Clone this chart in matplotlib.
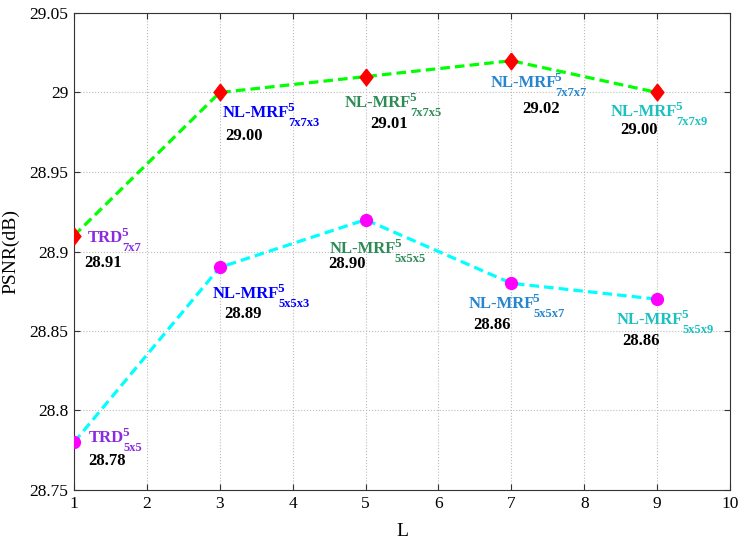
import matplotlib
matplotlib.use("Agg")
import matplotlib.pyplot as plt
from matplotlib.font_manager import FontProperties

plt.rcParams['font.family'] = ['Liberation Serif', 'DejaVu Serif']

# ---- data ----
L = [1, 3, 5, 7, 9]
psnr_7 = [28.91, 29.00, 29.01, 29.02, 29.00]
psnr_5 = [28.78, 28.89, 28.92, 28.88, 28.87]
vals_7 = ['28.91', '29.00', '29.01', '29.02', '29.00']
vals_5 = ['28.78', '28.89', '28.90', '28.86', '28.86']
names_7 = ['TRD', 'NL-MRF', 'NL-MRF', 'NL-MRF', 'NL-MRF']
names_5 = ['TRD', 'NL-MRF', 'NL-MRF', 'NL-MRF', 'NL-MRF']
sups = ['5', '5', '5', '5', '5']
subs_7 = ['7x7', '7x7x3', '7x7x5', '7x7x7', '7x7x9']
subs_5 = ['5x5', '5x5x3', '5x5x5', '5x5x7', '5x5x9']
xticks = [1, 2, 3, 4, 5, 6, 7, 8, 9, 10]
yticks = [28.75, 28.80, 28.85, 28.90, 28.95, 29.00, 29.05]
ytick_labels = ['28.75', '28.8', '28.85', '28.9', '28.95', '29', '29.05']

# ---- styles / layout ----
name_colors = ['#8A2BE2', '#0000FF', '#2E8B57', '#2585CF', '#1CC0C0']
# offsets in pixels (dx, dy downward) for name and value text
name_off_7 = [(14, 6), (3, 25), (-21, 30), (-21, 26), (-46, 24)]
val_off_7 = [(10, 31), (5, 48), (5, 51), (11, 52), (-37, 42)]
name_off_5 = [(15, 0), (-7, 31), (-36, 33), (-43, 25), (-40, 25)]
val_off_5 = [(14, 23), (4, 51), (-37, 48), (-38, 46), (-35, 46)]

fig = plt.figure(figsize=(7.48, 5.42), dpi=100)
ax = fig.add_axes([74/748, 52/542, 656/748, 477/542])

diamond = [(0, 1), (0.77, 0), (0, -1), (-0.77, 0), (0, 1)]

ax.plot(L, psnr_7, color='#00FF00', lw=2.3, linestyle=(0, (3, 1.6)), zorder=3)
ax.plot(L, psnr_7, linestyle='none', marker=diamond, markersize=12,
        markerfacecolor='#FF0000', markeredgecolor='#FF0000', zorder=4)
ax.plot(L, psnr_5, color='#00FFFF', lw=2.3, linestyle=(0, (3, 1.6)), zorder=3)
ax.plot(L, psnr_5, linestyle='none', marker='o', markersize=8.5,
        markerfacecolor='#FF00FF', markeredgecolor='#FF00FF', zorder=4)

renderer = fig.canvas.get_renderer()
fp_main = FontProperties(family=['Liberation Serif', 'DejaVu Serif'], weight='bold', size=12)

def put(x, y, s, off, color, size=12):
    return ax.annotate(s, xy=(x, y), xytext=(off[0], -off[1]), textcoords='offset pixels',
                       ha='left', va='baseline', fontsize=size, fontweight='bold',
                       color=color, zorder=5)

def put_name(x, y, main, sup, sub, off, color):
    put(x, y, main, off, color)
    w, h, d = renderer.get_text_width_height_descent(main, fp_main, ismath=False)
    put(x, y, sup, (off[0] + w - 2, off[1] - 6), color, size=9.5)
    put(x, y, sub, (off[0] + w - 1, off[1] + 9), color, size=9)

for i in range(len(L)):
    put_name(L[i], psnr_7[i], names_7[i], sups[i], subs_7[i], name_off_7[i], name_colors[i])
    put(L[i], psnr_7[i], vals_7[i], val_off_7[i], 'black')
    put_name(L[i], psnr_5[i], names_5[i], sups[i], subs_5[i], name_off_5[i], name_colors[i])
    put(L[i], psnr_5[i], vals_5[i], val_off_5[i], 'black')

ax.set_xlim(1, 10)
ax.set_ylim(28.75, 29.05)
ax.set_xticks(xticks)
ax.set_xticklabels([str(t) for t in xticks])
ax.set_yticks(yticks)
ax.set_yticklabels(ytick_labels)
ax.tick_params(direction='in', length=4, width=0.8, top=True, right=True,
               labelsize=12.5, pad=4, colors='#333333', labelcolor='black')
ax.grid(True, linestyle=':', color='#BBBBBB', linewidth=0.8)
for sp in ax.spines.values():
    sp.set_color('#333333')
    sp.set_linewidth(0.8)

ax.set_xlabel('L', fontsize=14, labelpad=8)
ax.set_ylabel('PSNR(dB)', fontsize=14, labelpad=7)

fig.savefig('out.png', dpi=100)
